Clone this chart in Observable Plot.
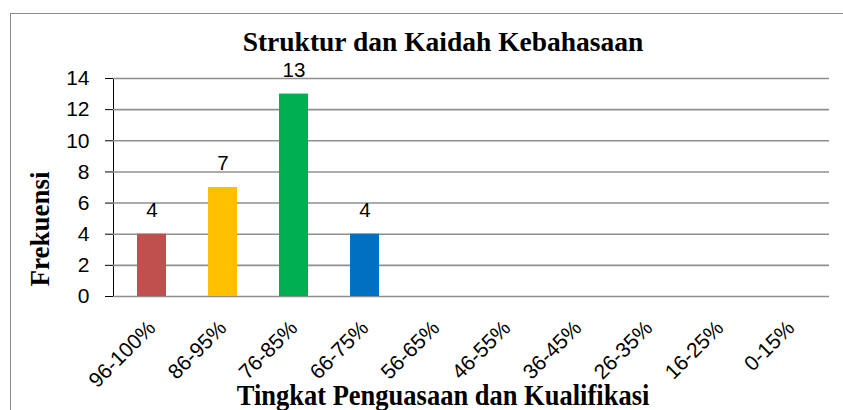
<!DOCTYPE html>
<html>
<head>
<meta charset="utf-8">
<script src="https://cdn.jsdelivr.net/npm/d3@7"></script>
<script src="https://cdn.jsdelivr.net/npm/@observablehq/plot@0.6"></script>
<style>
  html, body { margin: 0; padding: 0; background: #fff; }
  #wrap { position: relative; width: 843px; height: 410px; overflow: hidden; }
  #border { position: absolute; left: 10px; top: 13px; width: 900px; height: 500px;
            border-left: 1.5px solid #8a8a8a; border-top: 1.5px solid #8a8a8a; box-sizing: border-box; }
  .ttl { position: absolute; font-family: "Liberation Serif", "Times New Roman", serif; font-weight: bold;
         color: #000; white-space: nowrap; line-height: 1; }
  #title { left: 443px; top: 32px; transform: translateX(-50%); font-size: 27.5px; line-height: 0.7; }
  #xtitle { left: 443px; top: 382px; transform: translateX(-50%) scaleY(1.1); font-size: 26.5px; }
  #ytitle { left: 40px; top: 229px; transform: translate(-50%, -50%) rotate(-90deg); font-size: 27px; }
  #chart { position: absolute; left: 0; top: 0; }
</style>
</head>
<body>
<div id="wrap">
  <div id="border"></div>
  <div id="chart"></div>
  <div id="title" class="ttl">Struktur dan Kaidah Kebahasaan</div>
  <div id="xtitle" class="ttl">Tingkat Penguasaan dan Kualifikasi</div>
  <div id="ytitle" class="ttl">Frekuensi</div>
</div>
<script>
const categories = ["96-100%", "86-95%", "76-85%", "66-75%", "56-65%", "46-55%", "36-45%", "26-35%", "16-25%", "0-15%"];
const frekuensi = [4, 7, 13, 4, 0, 0, 0, 0, 0, 0];
const barColors = ["#C0504D", "#FFC000", "#00B050", "#0070C0", "#8064A2", "#4BACC6", "#F79646", "#9BBB59", "#1F497D", "#7F7F7F"];
const yTicks = [0, 2, 4, 6, 8, 10, 12, 14];

const data = categories.map((c, i) => ({cat: c, value: frekuensi[i], color: barColors[i]}));
const labeled = data.filter(d => d.value > 0);

const chart = Plot.plot({
  width: 843,
  height: 410,
  marginLeft: 113,
  marginRight: 14,
  marginTop: 78,
  marginBottom: 114,
  style: {fontFamily: "'Liberation Sans', Arial, sans-serif", fontSize: "21px", color: "#000", background: "transparent"},
  x: {domain: categories, paddingInner: 0.595, paddingOuter: 0.2975, label: null, tickSize: 0, tickRotate: -45, tickPadding: 28},
  y: {domain: [0, 14], ticks: yTicks, label: null, tickSize: 8, tickPadding: 16, line: true},
  marks: [
    Plot.ruleY(yTicks, {stroke: "#8f8f8f", strokeWidth: 1.6}),
    Plot.barY(data, {x: "cat", y: "value", fill: "color"}),
    Plot.text(labeled, {x: "cat", y: "value", text: d => String(d.value), dy: -24, fontSize: 20.5, fill: "#000"})
  ]
});
document.getElementById("chart").appendChild(chart);
</script>
</body>
</html>
